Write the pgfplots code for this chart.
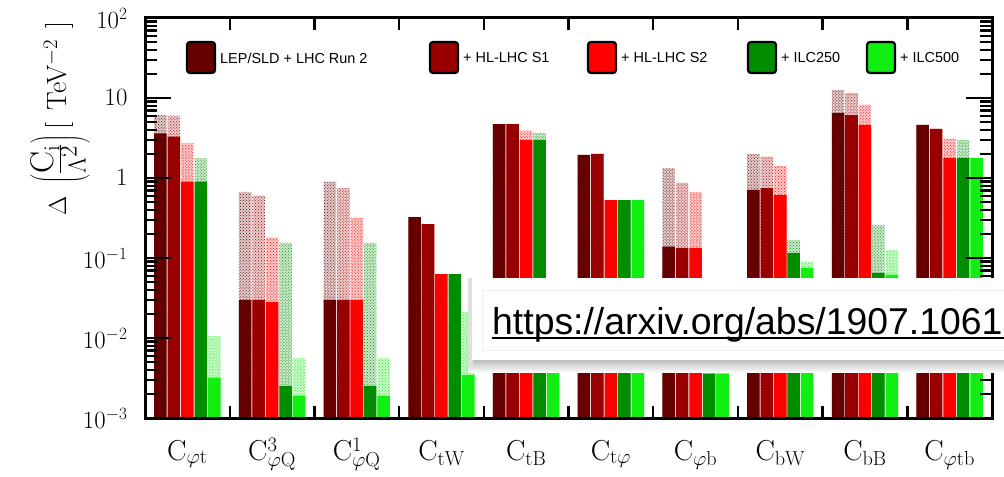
\documentclass[border=0pt]{standalone}
\usepackage{fontspec}
\usepackage{pgfplots}
\usepackage{pgfplotstable}
\pgfplotsset{compat=1.18}
\usetikzlibrary{patterns}
\newfontfamily\sans{Liberation Sans}
\definecolor{cA}{HTML}{660000}
\definecolor{cB}{HTML}{990000}
\definecolor{cC}{HTML}{FF0000}
\definecolor{cD}{HTML}{008E00}
\definecolor{cE}{HTML}{11EE11}

% columns: category index, individual limit (solid), marginalised limit (hatched)
\pgfplotstableread{
x ind marg
0 3.6 6.1
1 0.030 0.67
2 0.030 0.90
3 0.325 0.325
4 4.7 4.7
5 1.94 1.94
6 0.139 1.33
7 0.71 2.0
8 6.5 12.6
9 4.6 4.6
}\tabA
\pgfplotstableread{
x ind marg
0 3.3 6.0
1 0.030 0.60
2 0.030 0.75
3 0.266 0.266
4 4.7 4.7
5 2.0 2.0
6 0.134 0.87
7 0.75 1.85
8 6.1 11.5
9 4.1 4.1
}\tabB
\pgfplotstableread{
x ind marg
0 0.90 2.7
1 0.028 0.18
2 0.030 0.32
3 0.063 0.063
4 3.0 3.9
5 0.53 0.53
6 0.134 0.67
7 0.61 1.41
8 4.6 8.2
9 1.78 3.1
}\tabC
\pgfplotstableread{
x ind marg
0 0.90 1.76
1 0.0025 0.155
2 0.0025 0.155
3 0.063 0.063
4 3.0 3.65
5 0.53 0.53
6 0.0036 0.015
7 0.115 0.168
8 0.065 0.26
9 1.78 3.0
}\tabD
\pgfplotstableread{
x ind marg
0 0.0032 0.0106
1 0.0019 0.0056
2 0.0019 0.0056
3 0.00345 0.021
4 0.012 0.012
5 0.53 0.53
6 0.0036 0.0046
7 0.075 0.09
8 0.062 0.126
9 1.78 1.78
}\tabE

\pgfplotsset{
  margbar/.style={ybar, bar width=0.148, bar shift=#1, draw=none},
}
\newcommand\bigf{\fontsize{33}{36}\selectfont}

\begin{document}
\begin{tikzpicture}
\useasboundingbox (0,0) rectangle (1004bp,477bp);
\clip (0,0) rectangle (1004bp,477bp);
\begin{axis}[
  at={(145bp,59bp)}, anchor=south west,
  scale only axis, width=847bp, height=400bp,
  ymode=log, ymin=1e-3, ymax=1e2, log origin=infty,
  xmin=-0.5, xmax=9.5,
  xtick={0,...,9},
  xticklabels={$\mathrm{C}_{\varphi\mathrm{t}}$,$\mathrm{C}^{3}_{\varphi\mathrm{Q}}$,$\mathrm{C}^{1}_{\varphi\mathrm{Q}}$,$\mathrm{C}_{\mathrm{tW}}$,$\mathrm{C}_{\mathrm{tB}}$,$\mathrm{C}_{\mathrm{t}\varphi}$,$\mathrm{C}_{\varphi\mathrm{b}}$,$\mathrm{C}_{\mathrm{bW}}$,$\mathrm{C}_{\mathrm{bB}}$,$\mathrm{C}_{\varphi\mathrm{tb}}$},
  major x tick style={draw=none},
  minor xtick={0.5,1.5,...,8.5},
  ytick={1e-3,1e-2,1e-1,1,10,100},
  yticklabels={$10^{-3}$,$10^{-2}$,$10^{-1}$,$1$,$10$,$10^{2}$},
  major tick length=26bp, minor tick length=12bp,
  tick align=inside,
  tick style={black, line width=2.4bp},
  axis line style={line width=3bp},
  axis on top=true,
  xticklabel style={font=\fontsize{29}{31}\selectfont, anchor=base, yshift=-42bp},
  yticklabel style={font=\fontsize{24}{26}\selectfont, xshift=-14bp},
]
% marginalised (hatched) then individual (solid)
\addplot[margbar=-0.318, fill=cA!20, postaction={pattern=crosshatch dots, pattern color=cA}] table[x=x,y=marg]{\tabA};
\addplot[margbar=-0.318, fill=cA] table[x=x,y=ind]{\tabA};
\addplot[margbar=-0.159, fill=cB!20, postaction={pattern=crosshatch dots, pattern color=cB}] table[x=x,y=marg]{\tabB};
\addplot[margbar=-0.159, fill=cB] table[x=x,y=ind]{\tabB};
\addplot[margbar=0, fill=cC!20, postaction={pattern=crosshatch dots, pattern color=cC}] table[x=x,y=marg]{\tabC};
\addplot[margbar=0, fill=cC] table[x=x,y=ind]{\tabC};
\addplot[margbar=0.159, fill=cD!20, postaction={pattern=crosshatch dots, pattern color=cD}] table[x=x,y=marg]{\tabD};
\addplot[margbar=0.159, fill=cD] table[x=x,y=ind]{\tabD};
\addplot[margbar=0.318, fill=cE!20, postaction={pattern=crosshatch dots, pattern color=cE}] table[x=x,y=marg]{\tabE};
\addplot[margbar=0.318, fill=cE] table[x=x,y=ind]{\tabE};
% minor y ticks (2..9 per decade) on both sides
\pgfplotsinvokeforeach{0.002,0.003,0.004,0.005,0.006,0.007,0.008,0.009,
  0.02,0.03,0.04,0.05,0.06,0.07,0.08,0.09,
  0.2,0.3,0.4,0.5,0.6,0.7,0.8,0.9,
  2,3,4,5,6,7,8,9,20,30,40,50,60,70,80,90}{
  \draw[black, line width=2.4bp] (axis cs:-0.5,#1) -- ++(12bp,0bp);
  \draw[black, line width=2.4bp] (axis cs:9.5,#1) -- ++(-12bp,0bp);
}
\end{axis}

% y-axis title
\node[rotate=90, anchor=east, inner sep=0] at (60bp,456bp)
  {\fontsize{24}{26}\selectfont$\Delta$\hspace{13bp}\fontsize{28}{30}\selectfont$\left(\frac{\mbox{\bigf C$_{\mathrm{i}}$}}{\mbox{\bigf$\Lambda^{2}$}}\right)$\hspace{6bp}[\hspace{12bp}TeV$^{-2}$\hspace{11bp}]};

% legend
\begin{scope}[font=\sans\fontsize{14.5}{16}\selectfont]
\foreach \bx/\col/\txt in {187/cA/{LEP/SLD + LHC Run 2},430/cB/{+ HL-LHC S1},588/cC/{+ HL-LHC S2},748/cD/{+ ILC250},867/cE/{+ ILC500}}{
  \draw[line width=2.2bp, rounded corners=3bp, fill=\col] (\bx bp,404bp) rectangle ++(28bp,31bp);
  \node[anchor=west, inner sep=0] at (\bx bp+33bp,419bp) {\txt};
}
\end{scope}

% link overlay
\shade[top color=gray!55, bottom color=white] (468bp,104bp) rectangle (1010bp,118bp);
\fill[gray!25] (468bp,110bp) rectangle (473bp,199bp);
\fill[white] (472bp,117bp) rectangle (1010bp,199bp);
\draw[gray!12, line width=0.8bp] (482bp,127bp) rectangle (1012bp,187bp);
\node[anchor=base west, inner sep=0, font=\sans\fontsize{37.5}{40}\selectfont] at (492bp,142.5bp) {https://arxiv.org/abs/1907.10619};
\draw[line width=2bp] (492bp,138.5bp) -- (1010bp,138.5bp);
\end{tikzpicture}
\end{document}
